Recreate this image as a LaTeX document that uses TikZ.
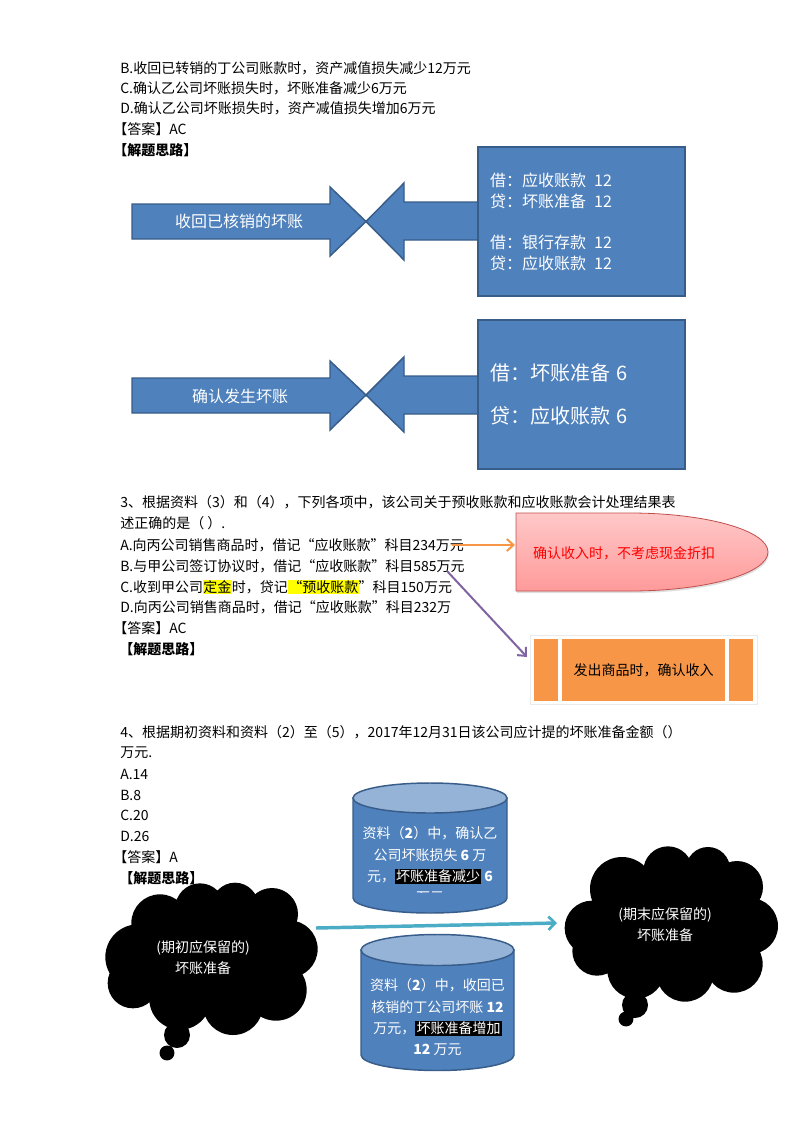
\documentclass[tikz,border=0pt]{standalone}
\usepackage{fontspec}
\setmainfont{Noto Sans CJK SC}
\usetikzlibrary{arrows.meta,shapes.geometric,shadows}
\definecolor{ablue}{HTML}{4F81BD}
\definecolor{abluebd}{HTML}{385D8A}
\definecolor{alight}{HTML}{95B3D7}
\definecolor{aorange}{HTML}{F79646}
\definecolor{apurple}{HTML}{8064A2}
\definecolor{ateal}{HTML}{4BACC6}
\definecolor{pinktop}{HTML}{FFC8C8}
\definecolor{pinkbot}{HTML}{FF9A9A}
\definecolor{redbd}{HTML}{C0504D}
\definecolor{hlyel}{HTML}{FFFF00}
\newcommand{\hly}[1]{{\setlength{\fboxsep}{0.3pt}\colorbox{hlyel}{#1}}}
\newcommand{\hlk}[1]{{\setlength{\fboxsep}{0.8pt}\colorbox{black}{\textcolor{white}{#1}}}}
\tikzset{
  body/.style={anchor=west, inner sep=0pt, font=\fontsize{10.5pt}{12pt}\selectfont},
  blockarrow/.style={fill=ablue, draw=abluebd, line width=1.1pt, line join=miter},
  arrowlabel/.style={text=white, inner sep=0pt, font=\fontsize{12pt}{14pt}\selectfont},
  bluebox/.style={draw=abluebd, fill=ablue, line width=1.1pt, text=white, minimum width=155.25pt,
     minimum height=111.75pt, text width=137pt, inner xsep=9pt, align=left},
  redshape/.style={draw=redbd, line width=0.6pt, top color=pinktop, bottom color=pinkbot,
     drop shadow={opacity=0.25, shadow xshift=0.6pt, shadow yshift=-1.5pt}},
  thinarrow/.style={line width=1.5pt, -{Straight Barb[length=5pt,width=9pt,line width=1.5pt]}},
  cylbody/.style={fill=ablue, draw=abluebd, line width=1.1pt},
  cyltop/.style={fill=alight, draw=abluebd, line width=1.1pt},
  cyltext/.style={text=white, align=center, inner sep=0pt, font=\fontsize{10.5pt}{16pt}\selectfont},
  cloudtext/.style={text=white, align=center, inner sep=0pt, font=\fontsize{10.5pt}{15.75pt}\selectfont}
}
\begin{document}
\begin{tikzpicture}[x=0.75pt,y=-0.75pt]
\useasboundingbox (0,0) rectangle (793,1122);
\fill[white] (0,0) rectangle (793,1122);

% ---------- top text ----------
\node[body] (t1) at (120,68) {B.收回已转销的丁公司账款时，资产减值损失减少12万元};
\node[body] (t2) at (120,88) {C.确认乙公司坏账损失时，坏账准备减少6万元};
\node[body] (t3) at (120,108) {D.确认乙公司坏账损失时，资产减值损失增加6万元};
\node[body] (t4) at (113,129) {【答案】AC};
\node[body] (t5) at (113,150) {\bfseries 【解题思路】};

% ---------- block arrows ----------
\draw[blockarrow] (480,202) -- (404,202) -- (404,183) -- (366,221.5) -- (404,260) -- (404,240) -- (480,240) -- cycle;
\draw[blockarrow] (132,204) -- (330,204) -- (330,187) -- (366,221.5) -- (330,256) -- (330,239) -- (132,239) -- cycle;
\node[arrowlabel] (a1) at (239,221.5) {收回已核销的坏账};
\node[bluebox, font=\fontsize{12pt}{15.75pt}\selectfont] (box1) at (581.5,221.5)
  {借：应收账款\ \,12\\贷：坏账准备\ \,12\\[15pt]借：银行存款\ \,12\\贷：应收账款\ \,12};

\draw[blockarrow] (480,376) -- (404,376) -- (404,357) -- (366,395) -- (404,432) -- (404,414) -- (480,414) -- cycle;
\draw[blockarrow] (132,378) -- (330,378) -- (330,361) -- (366,395) -- (330,430) -- (330,413) -- (132,413) -- cycle;
\node[arrowlabel] (a2) at (240,396) {确认发生坏账};
\node[bluebox, font=\fontsize{15pt}{32.25pt}\selectfont] (box2) at (581.5,394.5)
  {借：坏账准备 6\\贷：应收账款 6};

% ---------- section 3 ----------
\node[body] (s1) at (120,502) {3、根据资料（3）和（4），下列各项中，该公司关于预收账款和应收账款会计处理结果表};
\node[body] (s2) at (120,523) {述正确的是（ ）.};
\node[body] (sa) at (120,545) {A.向丙公司销售商品时，借记“应收账款”科目234万元};
\node[body] (sb) at (120,566) {B.与甲公司签订协议时，借记“应收账款”科目585万元};
\node[body] (sc) at (120,587) {C.收到甲公司\hly{定金}时，贷记\hly{“预收账款}”科目150万元};
\node[body] (sd) at (120,607) {D.向丙公司销售商品时，借记“应收账款”科目232万};
\node[body] (se) at (113,628) {【答案】AC};
\node[body] (sf) at (119,649) {\bfseries 【解题思路】};

\draw[redshape] (516,513) -- (630,513) .. controls (706.2,513) and (768,530.5) .. (768,552)
   .. controls (768,573.5) and (706.2,591) .. (630,591) -- (516,591) -- cycle;
\node[inner sep=0pt, text=red, font=\fontsize{10.5pt}{12pt}\selectfont] (rtext) at (624,553) {确认收入时，不考虑现金折扣};
\coordinate (oa) at (452,545);
\coordinate (redL) at (515,545);
\draw[thinarrow, aorange] (oa) -- (redL);

\node[fill=white, draw=black!8, drop shadow={opacity=0.3, shadow xshift=0.8pt, shadow yshift=-0.8pt},
  minimum width=170.25pt, minimum height=51.75pt, inner sep=0pt] (obox) at (643.5,669.5) {};
\fill[aorange] (534,639) rectangle (558,701);
\fill[aorange] (562,639) rectangle (725,701);
\fill[aorange] (729,639) rectangle (753,701);
\node[inner sep=0pt, font=\fontsize{10.5pt}{12pt}\selectfont] (otext) at (643.5,670) {发出商品时，确认收入};
\coordinate (pa) at (447,571);
\coordinate (pb) at (527,657);
\draw[thinarrow, apurple] (pa) -- (pb);

% ---------- section 4 ----------
\node[body] (u1) at (120,732) {4、根据期初资料和资料（2）至（5），2017年12月31日该公司应计提的坏账准备金额（）};
\node[body] (u2) at (120,753) {万元.};
\node[body] (u3) at (120,774) {A.14};
\node[body] (u4) at (120,795) {B.8};
\node[body] (u5) at (120,815) {C.20};
\node[body] (u6) at (120,836) {D.26};
\node[body] (u7) at (113,857) {【答案】A};
\node[body] (u8) at (119,878) {\bfseries 【解题思路】};

% cylinder 1
\filldraw[cylbody] (353,798) -- (353,898) .. controls (353,906.3) and (387.5,913) .. (430,913)
   .. controls (472.5,913) and (507,906.3) .. (507,898) -- (507,798) -- cycle;
\filldraw[cyltop] (430,798) ellipse [x radius=57.75pt, y radius=11.25pt];
\begin{scope}
\clip (353,812) rectangle (507,892);
\node[cyltext] (cy1) at (430,865.4) {资料（\textbf{2}）中，确认乙\\公司坏账损失 \textbf{6} 万\\元，\hlk{坏账准备减少} \textbf{6}\\万元};
\end{scope}

% cylinder 2
\filldraw[cylbody] (361,950) -- (361,1055) .. controls (361,1063.6) and (395.25,1070.5) .. (437.5,1070.5)
   .. controls (479.75,1070.5) and (514,1063.6) .. (514,1055) -- (514,950) -- cycle;
\filldraw[cyltop] (437.5,950) ellipse [x radius=57.375pt, y radius=11.625pt];
\node[cyltext] (cy2) at (437.5,1017.5) {资料（\textbf{2}）中，收回已\\核销的丁公司坏账 \textbf{12}\\万元，\hlk{坏账准备增加}\\\textbf{12} 万元};

% cloud 1
\fill[black]
  (138,957) circle[radius=24.5pt]
  (160,923) circle[radius=21.5pt]
  (200,908) circle[radius=18.5pt]
  (235,906) circle[radius=17.5pt]
  (272,914) circle[radius=19.5pt]
  (289,949) circle[radius=21.5pt]
  (276,990) circle[radius=23pt]
  (233,1005) circle[radius=22.5pt]
  (180,999) circle[radius=23pt]
  (133,983) circle[radius=19pt]
  (210,955) ellipse[x radius=68pt, y radius=40pt]
  (177,1035) circle[radius=9.75pt]
  (167,1053) circle[radius=5.6pt];
\node[cloudtext] (c1) at (203,958) {(期初应保留的)\\坏账准备};

% cloud 2
\fill[black]
  (592,928) circle[radius=20.5pt]
  (622,889) circle[radius=24pt]
  (668,871) circle[radius=18.5pt]
  (708,869) circle[radius=16.5pt]
  (737,887) circle[radius=19.5pt]
  (750,926) circle[radius=21pt]
  (734,964) circle[radius=21.5pt]
  (685,973) circle[radius=21.5pt]
  (636,970) circle[radius=21.5pt]
  (597,951) circle[radius=18.5pt]
  (670,925) ellipse[x radius=62pt, y radius=42pt]
  (635,1005) circle[radius=9.75pt]
  (626,1019) circle[radius=5.6pt];
\node[cloudtext] (c2) at (665,925) {(期末应保留的)\\坏账准备};

\coordinate (ta) at (316,928);
\coordinate (tb) at (557,923);
\draw[ateal, line width=2.6pt, -{Straight Barb[length=5pt,width=10pt,line width=2pt]}] (ta) -- (tb);
\end{tikzpicture}
\end{document}
